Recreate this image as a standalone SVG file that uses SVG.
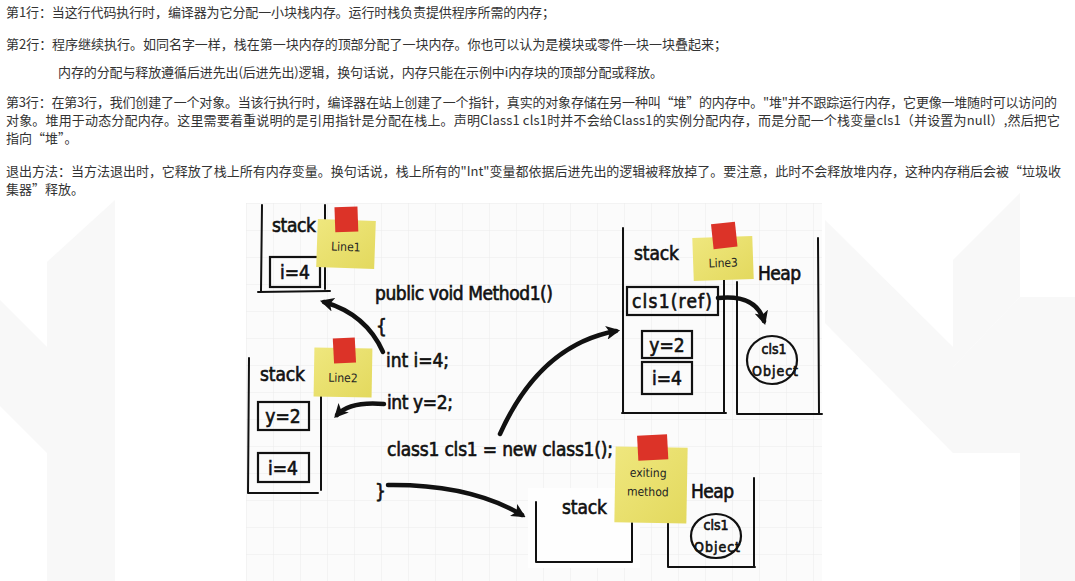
<svg xmlns="http://www.w3.org/2000/svg" width="1075" height="581" viewBox="0 0 1075 581">
<defs>
<style>
.cn{font-family:"Noto Sans CJK SC","Noto Sans",sans-serif;font-size:13px;fill:#333;}
.hd{font-family:"Liberation Sans Narrow","DejaVu Sans Condensed","Liberation Sans",sans-serif;fill:#111;stroke:#111;stroke-width:0.6;}
.code{font-size:19px;}
.lbl{font-size:19px;}
.box{fill:none;stroke:#111;stroke-width:2.2;}
.wall{fill:none;stroke:#111;stroke-width:2;stroke-linecap:round;}
.arrow{fill:none;stroke:#111;stroke-width:4.5;stroke-linecap:round;marker-end:url(#ah);}
.note{fill:url(#yel);}
.tab{fill:#dc3328;}
.ntxt{font-family:"Liberation Sans Narrow","DejaVu Sans Condensed",sans-serif;font-size:12px;fill:#222;text-anchor:middle;}
.wm{fill:#f8f8f8;}
</style>
<linearGradient id="yel" x1="0" y1="0" x2="1" y2="1">
<stop offset="0" stop-color="#efe77e"/>
<stop offset="1" stop-color="#e3d95e"/>
</linearGradient>
<pattern id="grid" width="27" height="27" patternUnits="userSpaceOnUse" x="246" y="203">
<rect width="27" height="27" fill="#fbfbfb"/>
<path d="M0,0 H27 M0,0 V27" stroke="#ececec" stroke-width="1"/>
</pattern>
<marker id="ah" viewBox="0 0 10 10" refX="7" refY="5" markerWidth="14" markerHeight="14" markerUnits="userSpaceOnUse" orient="auto">
<path d="M0,0 L10,5 L0,10 L2.5,5 z" fill="#111"/>
</marker>
</defs>
<rect width="1075" height="581" fill="#fff"/>
<g id="watermark">
<polygon class="wm" points="0,300 47,347 47,453 0,406"/>
<polygon class="wm" points="47,262 115,200 115,581 47,581"/>
<polygon class="wm" points="825,220 953,347 953,453 825,323"/>
<polygon class="wm" points="953,260 1020,193 1020,297 953,367"/>
<polygon class="wm" points="953,367 1020,297 1020,453 953,453"/>
<polygon class="wm" points="1020,297 1075,297 1075,581 1020,581"/>
</g>
<g id="text">
<text class="cn" x="6" y="17" textLength="549">第1行：当这行代码执行时，编译器为它分配一小块栈内存。运行时栈负责提供程序所需的内存；</text>
<text class="cn" x="6" y="49" textLength="721">第2行：程序继续执行。如同名字一样，栈在第一块内存的顶部分配了一块内存。你也可以认为是模块或零件一块一块叠起来；</text>
<text class="cn" x="58" y="77" textLength="605">内存的分配与释放遵循后进先出(后进先出)逻辑，换句话说，内存只能在示例中i内存块的顶部分配或释放。</text>
<text class="cn" x="6" y="107" textLength="1051">第3行：在第3行，我们创建了一个对象。当该行执行时，编译器在站上创建了一个指针，真实的对象存储在另一种叫“堆”的内存中。"堆"并不跟踪运行内存，它更像一堆随时可以访问的</text>
<text class="cn" x="6" y="125" textLength="1054">对象。堆用于动态分配内存。这里需要着重说明的是引用指针是分配在栈上。声明Class1 cls1时并不会给Class1的实例分配内存，而是分配一个栈变量cls1（并设置为null）,然后把它</text>
<text class="cn" x="6" y="143">指向“堆”。</text>
<text class="cn" x="6" y="176" textLength="1055">退出方法：当方法退出时，它释放了栈上所有内存变量。换句话说，栈上所有的"Int"变量都依据后进先出的逻辑被释放掉了。要注意，此时不会释放堆内存，这种内存稍后会被“垃圾收</text>
<text class="cn" x="6" y="194">集器”释放。</text>
</g>
<g id="diagram-bg">
<rect x="246" y="203" width="576" height="378" fill="url(#grid)"/>
<rect x="528" y="488" width="112" height="80" fill="#fefefe"/>
</g>
<g id="stack-line1">
<path class="wall" d="M262,205 L261,291 M325,205 L325,289 M258,292 L330,291"/>
<rect class="box" x="270" y="257" width="50" height="30"/>
<text class="hd lbl" x="272" y="232" textLength="44">stack</text>
<text class="hd lbl" x="295" y="279" text-anchor="middle">i=4</text>
</g>
<g id="note-line1" transform="rotate(2 346 244)">
<rect class="note" x="317" y="220" width="58" height="48"/>
<rect class="tab" x="334" y="207" width="23" height="25" transform="rotate(-4 345 219)"/>
<text class="ntxt" x="346" y="251">Line1</text>
</g>
<g id="stack-line2">
<path class="wall" d="M249,358 L248,493 M321,395 L321,490 M248,493 L318,493"/>
<rect class="box" x="258" y="402" width="51" height="28"/>
<rect class="box" x="258" y="453" width="51" height="29"/>
<text class="hd lbl" x="260" y="381" textLength="45">stack</text>
<text class="hd lbl" x="283" y="423" text-anchor="middle">y=2</text>
<text class="hd lbl" x="283" y="475" text-anchor="middle">i=4</text>
</g>
<g id="note-line2" transform="rotate(1 343 372)">
<rect class="note" x="314" y="348" width="58" height="49"/>
<rect class="tab" x="333" y="338" width="22" height="25" transform="rotate(-4 344 350)"/>
<text class="ntxt" x="343" y="382">Line2</text>
</g>
<g id="code">
<text class="hd code" x="375" y="300" textLength="178">public void Method1()</text>
<text class="hd code" x="376" y="333">{</text>
<text class="hd code" x="386" y="367" textLength="63">int i=4;</text>
<text class="hd code" x="387" y="409" textLength="66">int y=2;</text>
<text class="hd code" x="387" y="456" textLength="226">class1 cls1 = new class1();</text>
<text class="hd code" x="375" y="498">}</text>
</g>
<g id="stack-line3">
<path class="wall" d="M623,228 L623,413 M724,280 L724,413 M622,413 L726,413"/>
<rect class="box" x="627" y="287" width="91" height="28"/>
<rect class="box" x="642" y="331" width="50" height="27"/>
<rect class="box" x="642" y="362" width="50" height="32"/>
<text class="hd lbl" x="634" y="260" textLength="45">stack</text>
<text class="hd lbl" x="672" y="308" text-anchor="middle" textLength="80">cls1(ref)</text>
<text class="hd lbl" x="667" y="352" text-anchor="middle">y=2</text>
<text class="hd lbl" x="667" y="385" text-anchor="middle">i=4</text>
</g>
<g id="heap-line3">
<path class="wall" d="M737,282 L737,413 M818,238 L819,413 M737,414 L822,414"/>
<text class="hd lbl" x="758" y="280" textLength="43">Heap</text>
<ellipse class="box" cx="772" cy="360" rx="25" ry="24"/>
<text class="hd" x="774" y="354" font-size="14" stroke-width="0.4" text-anchor="middle">cls1</text>
<text class="hd" x="775" y="376" font-size="14" stroke-width="0.4" text-anchor="middle" textLength="46">Object</text>
</g>
<g id="note-line3" transform="rotate(-2 723 258)">
<rect class="note" x="693" y="237" width="60" height="43"/>
<rect class="tab" x="713" y="223" width="24" height="25" transform="rotate(-4 725 235)"/>
<text class="ntxt" x="723" y="267">Line3</text>
</g>
<g id="stack-exit">
<path class="wall" d="M536,502 L536,562 M632,523 L632,562 M536,562 L632,562"/>
<text class="hd lbl" x="562" y="514" textLength="45">stack</text>
</g>
<g id="heap-exit">
<path class="wall" d="M668,520 L668,567 M754,478 L754,567 M668,567 L755,567"/>
<text class="hd lbl" x="691" y="498" textLength="43">Heap</text>
<ellipse class="box" cx="716" cy="536" rx="25" ry="22"/>
<text class="hd" x="716" y="530" font-size="14" stroke-width="0.4" text-anchor="middle">cls1</text>
<text class="hd" x="717" y="552" font-size="14" stroke-width="0.4" text-anchor="middle" textLength="46">Object</text>
</g>
<g id="note-exit" transform="rotate(1 651 485)">
<rect class="note" x="615" y="447" width="72" height="76"/>
<rect class="tab" x="637" y="435" width="30" height="25" transform="rotate(-4 652 447)"/>
<text class="ntxt" x="648" y="477">exiting</text>
<text class="ntxt" x="648" y="496">method</text>
</g>
<g id="connectors">
<path class="arrow" d="M383,352 Q366,314 324,302"/>
<path class="arrow" d="M384,404 Q350,401 337,415"/>
<path class="arrow" d="M500,434 Q540,345 616,331"/>
<path class="arrow" d="M718,298 Q756,294 764,321"/>
<path class="arrow" d="M388,485 Q470,484 522,515"/>
</g>
</svg>
